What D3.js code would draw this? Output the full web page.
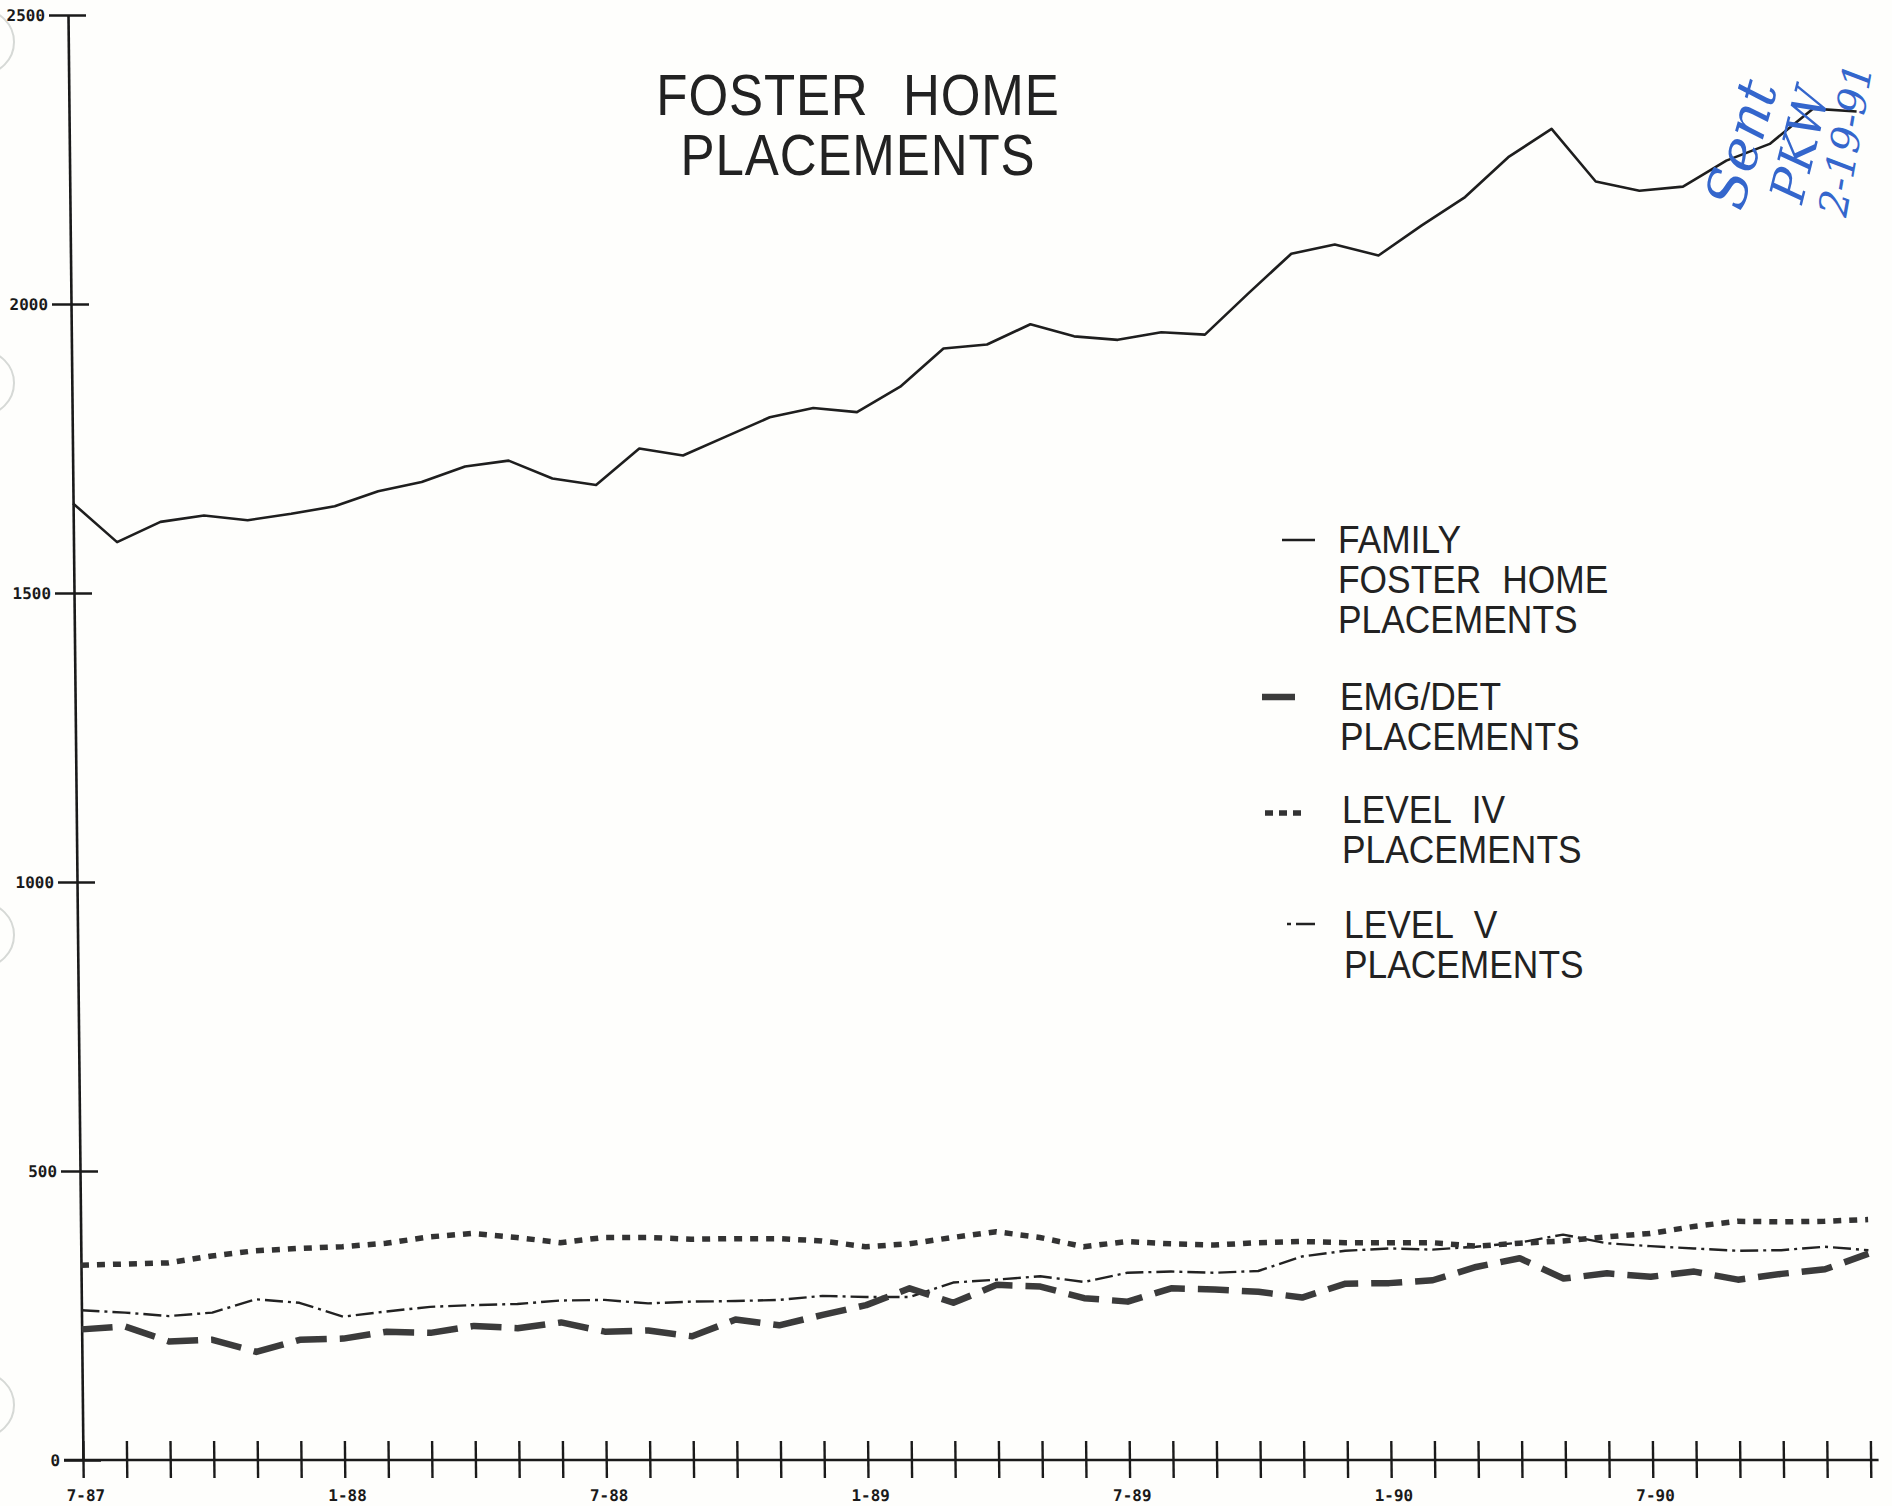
<!DOCTYPE html>
<html>
<head>
<meta charset="utf-8">
<script src="https://cdn.jsdelivr.net/npm/d3@7"></script>
<style>
  html, body { margin: 0; padding: 0; background: #fefefc; }
  svg { display: block; }
</style>
</head>
<body>
<script>
// ---------------- DATA ----------------
const months = ["7-87","8-87","9-87","10-87","11-87","12-87",
  "1-88","2-88","3-88","4-88","5-88","6-88","7-88","8-88","9-88","10-88","11-88","12-88",
  "1-89","2-89","3-89","4-89","5-89","6-89","7-89","8-89","9-89","10-89","11-89","12-89",
  "1-90","2-90","3-90","4-90","5-90","6-90","7-90","8-90","9-90","10-90","11-90","12-90"];
const tickLabels = ["7-87","1-88","7-88","1-89","7-89","1-90","7-90"];
const yTicks = [0, 500, 1000, 1500, 2000, 2500];

const familyFoster = [1655,1588,1623,1634,1626,1637,1650,1676,1692,1719,1729,1698,
  1687,1750,1738,1771,1804,1820,1813,1857,1923,1930,1965,1944,1938,1951,1947,2018,
  2087,2103,2084,2136,2185,2254,2303,2212,2196,2203,2248,2277,2338,2333];
const emgDet = [226,231,205,208,187,208,210,222,220,232,228,238,
  222,224,214,243,233,251,268,297,272,303,300,280,274,297,295,291,
  281,305,306,311,334,349,314,323,317,326,312,322,330,357];
const levelIV = [337,339,341,353,362,366,369,375,386,392,385,376,
  385,385,382,383,383,379,369,374,385,395,385,369,378,374,372,376,
  378,376,376,376,370,375,379,386,392,404,413,412,413,416];
const levelV = [259,255,249,255,278,272,248,257,265,268,270,276,
  277,271,274,275,277,284,282,282,307,312,318,308,324,326,324,327,
  352,362,366,364,369,376,390,375,370,366,362,363,369,363];

const titleLines = ["FOSTER HOME", "PLACEMENTS"];
const legendItems = [
  {key: "family", lines: ["FAMILY", "FOSTER HOME", "PLACEMENTS"]},
  {key: "emg",    lines: ["EMG/DET", "PLACEMENTS"]},
  {key: "lv4",    lines: ["LEVEL IV", "PLACEMENTS"]},
  {key: "lv5",    lines: ["LEVEL V", "PLACEMENTS"]}
];
const annotation = ["Sent", "PKW", "2-19-91"];

// ---------------- LAYOUT ----------------
const W = 1892, H = 1506;
const Y0 = 1460;               // baseline (value 0)
const styles = {
  family: {stroke: "#1e1e1e", width: 2.6, dash: null},
  emg:    {stroke: "#3b3b3b", width: 6.5, dash: "31,13"},
  lv4:    {stroke: "#333333", width: 5.5, dash: "8,8"},
  lv5:    {stroke: "#222222", width: 2.4, dash: "18,5,3,5"}
};

const svg = d3.select("body").append("svg")
  .attr("width", W).attr("height", H)
  .style("background", "#fefefc");

// faint punch-hole marks on the left edge
[42, 383, 935, 1405].forEach(cy => {
  svg.append("circle").attr("cx", -18).attr("cy", cy).attr("r", 32)
    .attr("fill", "none").attr("stroke", "#d6d9d6").attr("stroke-width", 2);
});

const x = d3.scaleLinear().domain([0, months.length - 1]).range([83, 83 + 43.6 * (months.length - 1)]);
const y = d3.scaleLinear().domain([0, 2500]).range([Y0, 15]);

// slight shear of the scanned plot
const skewDeg = Math.atan(15 / 1445) * 180 / Math.PI;
const plot = svg.append("g")
  .attr("transform", `translate(0,${Y0}) skewX(${skewDeg}) translate(0,${-Y0})`);

const axisFont = "'DejaVu Sans Mono', monospace";

// Y axis
const yAxis = plot.append("g")
  .attr("transform", `translate(${x(0)},0)`)
  .call(d3.axisLeft(y).tickValues(yTicks).tickSizeInner(19).tickSizeOuter(0).tickPadding(4)
    .tickFormat(d3.format("d")));
yAxis.select(".domain").attr("stroke", "#1a1a1a").attr("stroke-width", 2.6);
yAxis.selectAll(".tick line").attr("x1", 18).attr("stroke", "#1a1a1a").attr("stroke-width", 2.4);
yAxis.selectAll(".tick text")
  .attr("font-family", axisFont).attr("font-size", 16).attr("font-weight", "bold")
  .attr("fill", "#1a1a1a");

// X axis
const xAxis = plot.append("g")
  .attr("transform", `translate(0,${Y0})`)
  .call(d3.axisBottom(x).tickValues(d3.range(months.length)).tickSizeInner(18).tickSizeOuter(0)
    .tickFormat(i => tickLabels.includes(months[i]) ? months[i] : ""));
xAxis.select(".domain").attr("d", `M${x(0) - 19},0H${x(months.length - 1) + 8}`)
  .attr("stroke", "#1a1a1a").attr("stroke-width", 2.6);
xAxis.selectAll(".tick line").attr("y1", -19).attr("stroke", "#1a1a1a").attr("stroke-width", 2.4);
xAxis.selectAll(".tick text")
  .attr("y", 41).attr("dy", 0).attr("dx", 2)
  .attr("font-family", axisFont).attr("font-size", 16).attr("font-weight", "bold")
  .attr("fill", "#1a1a1a");

// Series lines
const line = d3.line().x((d, i) => x(i)).y(d => y(d));
const series = [
  {key: "lv5", values: levelV},
  {key: "lv4", values: levelIV},
  {key: "emg", values: emgDet},
  {key: "family", values: familyFoster}
];
series.forEach(s => {
  const st = styles[s.key];
  plot.append("path")
    .datum(s.values)
    .attr("d", line)
    .attr("fill", "none")
    .attr("stroke", st.stroke)
    .attr("stroke-width", st.width)
    .attr("stroke-linejoin", "round")
    .attr("stroke-dasharray", st.dash);
});

// Title
const textFont = "'Liberation Sans', Arial, sans-serif";
const title = svg.append("text")
  .attr("transform", "translate(858,115) scale(0.88,1)")
  .attr("text-anchor", "middle")
  .attr("font-family", textFont).attr("font-size", 58)
  .attr("fill", "#222")
  .attr("letter-spacing", 1)
  .attr("word-spacing", 22);
titleLines.forEach((t, i) => {
  title.append("tspan").attr("x", 0).attr("dy", i === 0 ? 0 : 60).text(t);
});

// Legend
const legendPos = {
  family: {tx: 1338, base: 553, mx1: 1282, mx2: 1315, my: 540},
  emg:    {tx: 1340, base: 710, mx1: 1262, mx2: 1295, my: 697},
  lv4:    {tx: 1342, base: 823, mx1: 1265, mx2: 1303, my: 813},
  lv5:    {tx: 1344, base: 938, mx1: 1287, mx2: 1315, my: 924}
};
const legendMarkDash = {family: null, emg: null, lv4: "8,6", lv5: "4,5,20"};
const legend = svg.append("g");
legendItems.forEach(item => {
  const p = legendPos[item.key];
  const st = styles[item.key];
  legend.append("line")
    .attr("x1", p.mx1).attr("x2", p.mx2).attr("y1", p.my).attr("y2", p.my)
    .attr("stroke", st.stroke).attr("stroke-width", st.width)
    .attr("stroke-dasharray", legendMarkDash[item.key]);
  const txt = legend.append("text")
    .attr("transform", `translate(${p.tx},${p.base}) scale(0.93,1)`)
    .attr("font-family", textFont).attr("font-size", 38)
    .attr("fill", "#222")
    .attr("word-spacing", 12);
  item.lines.forEach((t, j) => {
    txt.append("tspan").attr("x", 0).attr("dy", j === 0 ? 0 : 40).text(t);
  });
});

// handwritten annotation (blue ink)
const annoPos = [
  {x: 1742, y: 212, rot: -74, size: 56},
  {x: 1802, y: 205, rot: -76, size: 48},
  {x: 1846, y: 218, rot: -80, size: 40}
];
annotation.forEach((t, i) => {
  const a = annoPos[i];
  svg.append("text")
    .attr("transform", `translate(${a.x},${a.y}) rotate(${a.rot})`)
    .attr("font-family", "'DejaVu Serif', serif").attr("font-style", "italic")
    .attr("font-size", a.size)
    .attr("fill", "#3466cc")
    .text(t);
});
</script>
</body>
</html>
